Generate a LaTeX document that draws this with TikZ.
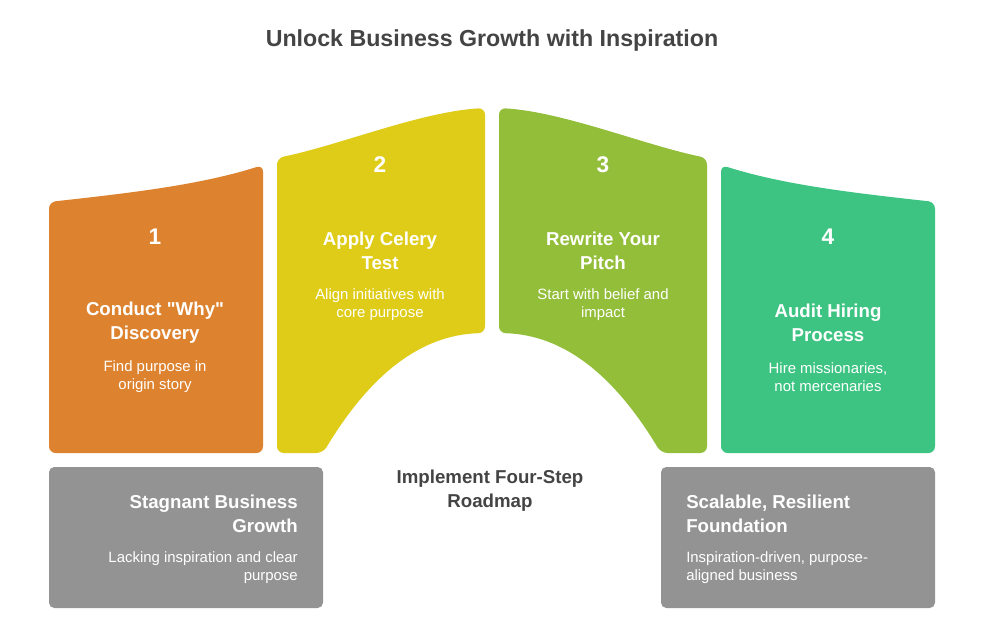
\documentclass[tikz,border=0pt]{standalone}
\usepackage{fontspec}
\setmainfont{Liberation Sans}
\usetikzlibrary{positioning, calc}

\definecolor{stepone}{RGB}{221,131,48}
\definecolor{steptwo}{RGB}{223,204,25}
\definecolor{stepthree}{RGB}{147,190,58}
\definecolor{stepfour}{RGB}{61,196,130}
\definecolor{boxgray}{RGB}{147,147,147}
\definecolor{textgray}{RGB}{68,68,68}

\tikzset{
  stepnum/.style={text=white, inner sep=0pt, font=\bfseries\fontsize{17}{20}\selectfont},
  stephead/.style={text=white, inner sep=0pt, align=center, font=\bfseries\fontsize{14}{18}\selectfont},
  stepdesc/.style={text=white, inner sep=0pt, align=center, font=\fontsize{11.2}{13.5}\selectfont},
  endbox/.style={fill=boxgray, rounded corners=4pt},
}

\newcommand{\stepblock}[6]{%
  % #1 = number, #2 = x, #3 = y of number, #4 = y of heading, #5 = heading, #6 = text
  \node[stepnum] (num#1) at (#2,#3) {#1};
  \node[stephead] (head#1) at (#2,#4) {#5};
  \node[stepdesc] (desc#1) at ($(head#1)+(0,54)$) {#6};
}

\begin{document}
\begin{tikzpicture}[x=0.75pt, y=-0.75pt]
    \useasboundingbox[fill=white] (0,0) rectangle (984,634);

    \node[text=textgray, inner sep=0pt, font=\bfseries\fontsize{17.4}{21}\selectfont] (title) at (492,41) {Unlock Business Growth with Inspiration};

    % the four steps, an arch over the roadmap
    \fill[stepone, rounded corners=5pt] (49,453) -- (49,202) .. controls (130,193) and (200,185) .. (263,165) -- (263,453) -- cycle;
    \fill[steptwo, rounded corners=5pt] (277,453) -- (277,158) .. controls (340,145) and (420,112) .. (485,108) -- (485,333) .. controls (420,335) and (370,375) .. (323,453) -- cycle;
    \fill[stepthree, rounded corners=5pt] (707,453) -- (707,158) .. controls (644,145) and (564,112) .. (499,108) -- (499,333) .. controls (564,335) and (614,375) .. (661,453) -- cycle;
    \fill[stepfour, rounded corners=5pt] (935,453) -- (935,202) .. controls (854,193) and (784,185) .. (721,165) -- (721,453) -- cycle;

    \stepblock{1}{155}{237}{323}{Conduct \textquotedbl Why\textquotedbl\\Discovery}{Find purpose in\\origin story}
    \stepblock{2}{380}{165}{251}{Apply Celery\\Test}{Align initiatives with\\core purpose}
    \stepblock{3}{603}{165}{251}{Rewrite Your\\Pitch}{Start with belief and\\impact}
    \stepblock{4}{828}{237}{323}{Audit Hiring\\Process}{Hire missionaries,\\not mercenaries}

    \node[stephead, text=textgray] (roadmap) at (490,491) {Implement Four-Step\\Roadmap};

    % start and end
    \fill[endbox] (49,467) rectangle (323,608);
    \node[stephead, anchor=east, align=right] (starthead) at (298,514) {Stagnant Business\\Growth};
    \node[stepdesc, anchor=east, align=right] (startdesc) at (298,568) {Lacking inspiration and clear\\purpose};

    \fill[endbox] (661,467) rectangle (935,608);
    \node[stephead, anchor=west, align=left] (endhead) at (686,514) {Scalable, Resilient\\Foundation};
    \node[stepdesc, anchor=west, align=left] (enddesc) at (686,568) {Inspiration-driven, purpose-\\aligned business};
\end{tikzpicture}
\end{document}
